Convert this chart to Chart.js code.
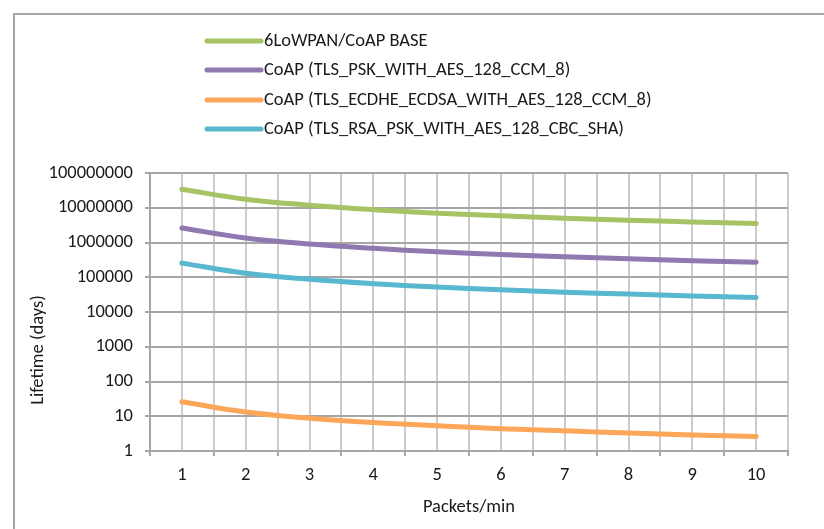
<!DOCTYPE html>
<html>
<head>
<meta charset="utf-8">
<script src="https://cdn.jsdelivr.net/npm/chart.js@4/dist/chart.umd.min.js"></script>
<style>
  html, body { margin: 0; padding: 0; background: #ffffff; }
  #wrap { position: relative; width: 824px; height: 529px; }
</style>
</head>
<body>
<div id="wrap"><canvas id="c"></canvas></div>
<script>
// Packets per minute
const packetsPerMin = ['1', '2', '3', '4', '5', '6', '7', '8', '9', '10'];

// Node lifetime in days for each protocol configuration
const baseLifetime  = [34000000, 17500000, 11800000, 8800000, 7000000, 5900000, 5000000, 4400000, 3900000, 3500000];
const pskLifetime   = [2600000, 1350000, 900000, 680000, 540000, 450000, 390000, 340000, 300000, 270000];
const ecdheLifetime = [26, 13.2, 8.8, 6.6, 5.3, 4.4, 3.8, 3.3, 2.9, 2.6];
const rsaLifetime   = [255000, 130000, 87000, 65000, 52000, 44000, 37000, 33000, 29000, 26000];

const seriesLabels = [
  '6LoWPAN/CoAP BASE',
  'CoAP (TLS_PSK_WITH_AES_128_CCM_8)',
  'CoAP (TLS_ECDHE_ECDSA_WITH_AES_128_CCM_8)',
  'CoAP (TLS_RSA_PSK_WITH_AES_128_CBC_SHA)'
];
const yTickValues = [1, 10, 100, 1000, 10000, 100000, 1000000, 10000000, 100000000];

const FONT = 'Carlito, Calibri, Lato, sans-serif';
const FONT_SIZE = 18.5;
const TEXT = '#1a1a1a';
const colors = ['#a6c366', '#9078b0', '#fca65a', '#57b8d0'];

// Outer frame around the whole chart
const framePlugin = {
  id: 'frame',
  beforeDraw(chart) {
    const ctx = chart.ctx;
    ctx.save();
    ctx.strokeStyle = '#a6a6a6';
    ctx.lineWidth = 2;
    ctx.strokeRect(14, 14, 840, 540);
    ctx.restore();
  }
};

// Stacked legend with line swatches, plus the rotated y-axis title
const legendPlugin = {
  id: 'stackLegend',
  afterDraw(chart) {
    const ctx = chart.ctx;
    ctx.save();
    const rows = [41, 70, 100, 129];
    chart.data.datasets.forEach((ds, i) => {
      const y = rows[i];
      ctx.strokeStyle = ds.borderColor;
      ctx.lineWidth = 5;
      ctx.lineCap = 'round';
      ctx.beginPath();
      ctx.moveTo(207, y);
      ctx.lineTo(261, y);
      ctx.stroke();
      ctx.fillStyle = TEXT;
      ctx.font = FONT_SIZE + 'px ' + FONT;
      ctx.textBaseline = 'middle';
      ctx.textAlign = 'left';
      ctx.fillText(ds.label, 264, y);
    });
    ctx.translate(38, 350);
    ctx.rotate(-Math.PI / 2);
    ctx.fillStyle = TEXT;
    ctx.font = FONT_SIZE + 'px ' + FONT;
    ctx.textAlign = 'center';
    ctx.textBaseline = 'middle';
    ctx.fillText('Lifetime (days)', 0, 0);
    ctx.restore();
  }
};

const seriesData = [baseLifetime, pskLifetime, ecdheLifetime, rsaLifetime];

new Chart(document.getElementById('c'), {
  type: 'line',
  data: {
    labels: packetsPerMin,
    datasets: seriesData.map((d, i) => ({
      label: seriesLabels[i],
      data: d,
      borderColor: colors[i],
      backgroundColor: colors[i],
      borderWidth: 5,
      borderCapStyle: 'round',
      pointRadius: 0,
      tension: 0.4,
      fill: false
    }))
  },
  options: {
    responsive: true,
    maintainAspectRatio: false,
    animation: false,
    layout: { padding: { top: 173, right: 36, left: 0, bottom: 0 } },
    plugins: {
      legend: { display: false },
      tooltip: { enabled: false }
    },
    scales: {
      x: {
        type: 'category',
        position: 'bottom',
        offset: true,
        grid: { offset: true, color: '#cccccc', lineWidth: 2, tickColor: '#a6a6a6', tickLength: 5 },
        border: { display: true, color: '#a6a6a6', width: 2 },
        ticks: { color: TEXT, font: { family: FONT, size: FONT_SIZE }, padding: 8, maxRotation: 0 },
        title: { display: true, text: 'Packets/min', color: TEXT, font: { family: FONT, size: FONT_SIZE }, padding: { top: 0, bottom: 11 } },
        afterFit(scale) { scale.height = 78; }
      },
      x2: {
        type: 'category',
        position: 'bottom',
        offset: true,
        labels: packetsPerMin,
        grid: { offset: false, color: '#cccccc', lineWidth: 2, drawTicks: false },
        border: { display: false },
        ticks: { display: false },
        afterFit(scale) { scale.height = 0; }
      },
      y: {
        type: 'logarithmic',
        min: 1,
        max: 100000000,
        afterBuildTicks(scale) { scale.ticks = yTickValues.map(v => ({ value: v })); },
        grid: { color: '#a6a6a6', lineWidth: 2, tickColor: '#a6a6a6', tickLength: 5 },
        border: { display: true, color: '#a6a6a6', width: 2 },
        ticks: {
          color: TEXT,
          font: { family: FONT, size: FONT_SIZE },
          padding: 12,
          callback: (v) => String(v)
        },
        afterFit(scale) { scale.width = 150; }
      }
    }
  },
  plugins: [framePlugin, legendPlugin]
});
</script>
</body>
</html>
